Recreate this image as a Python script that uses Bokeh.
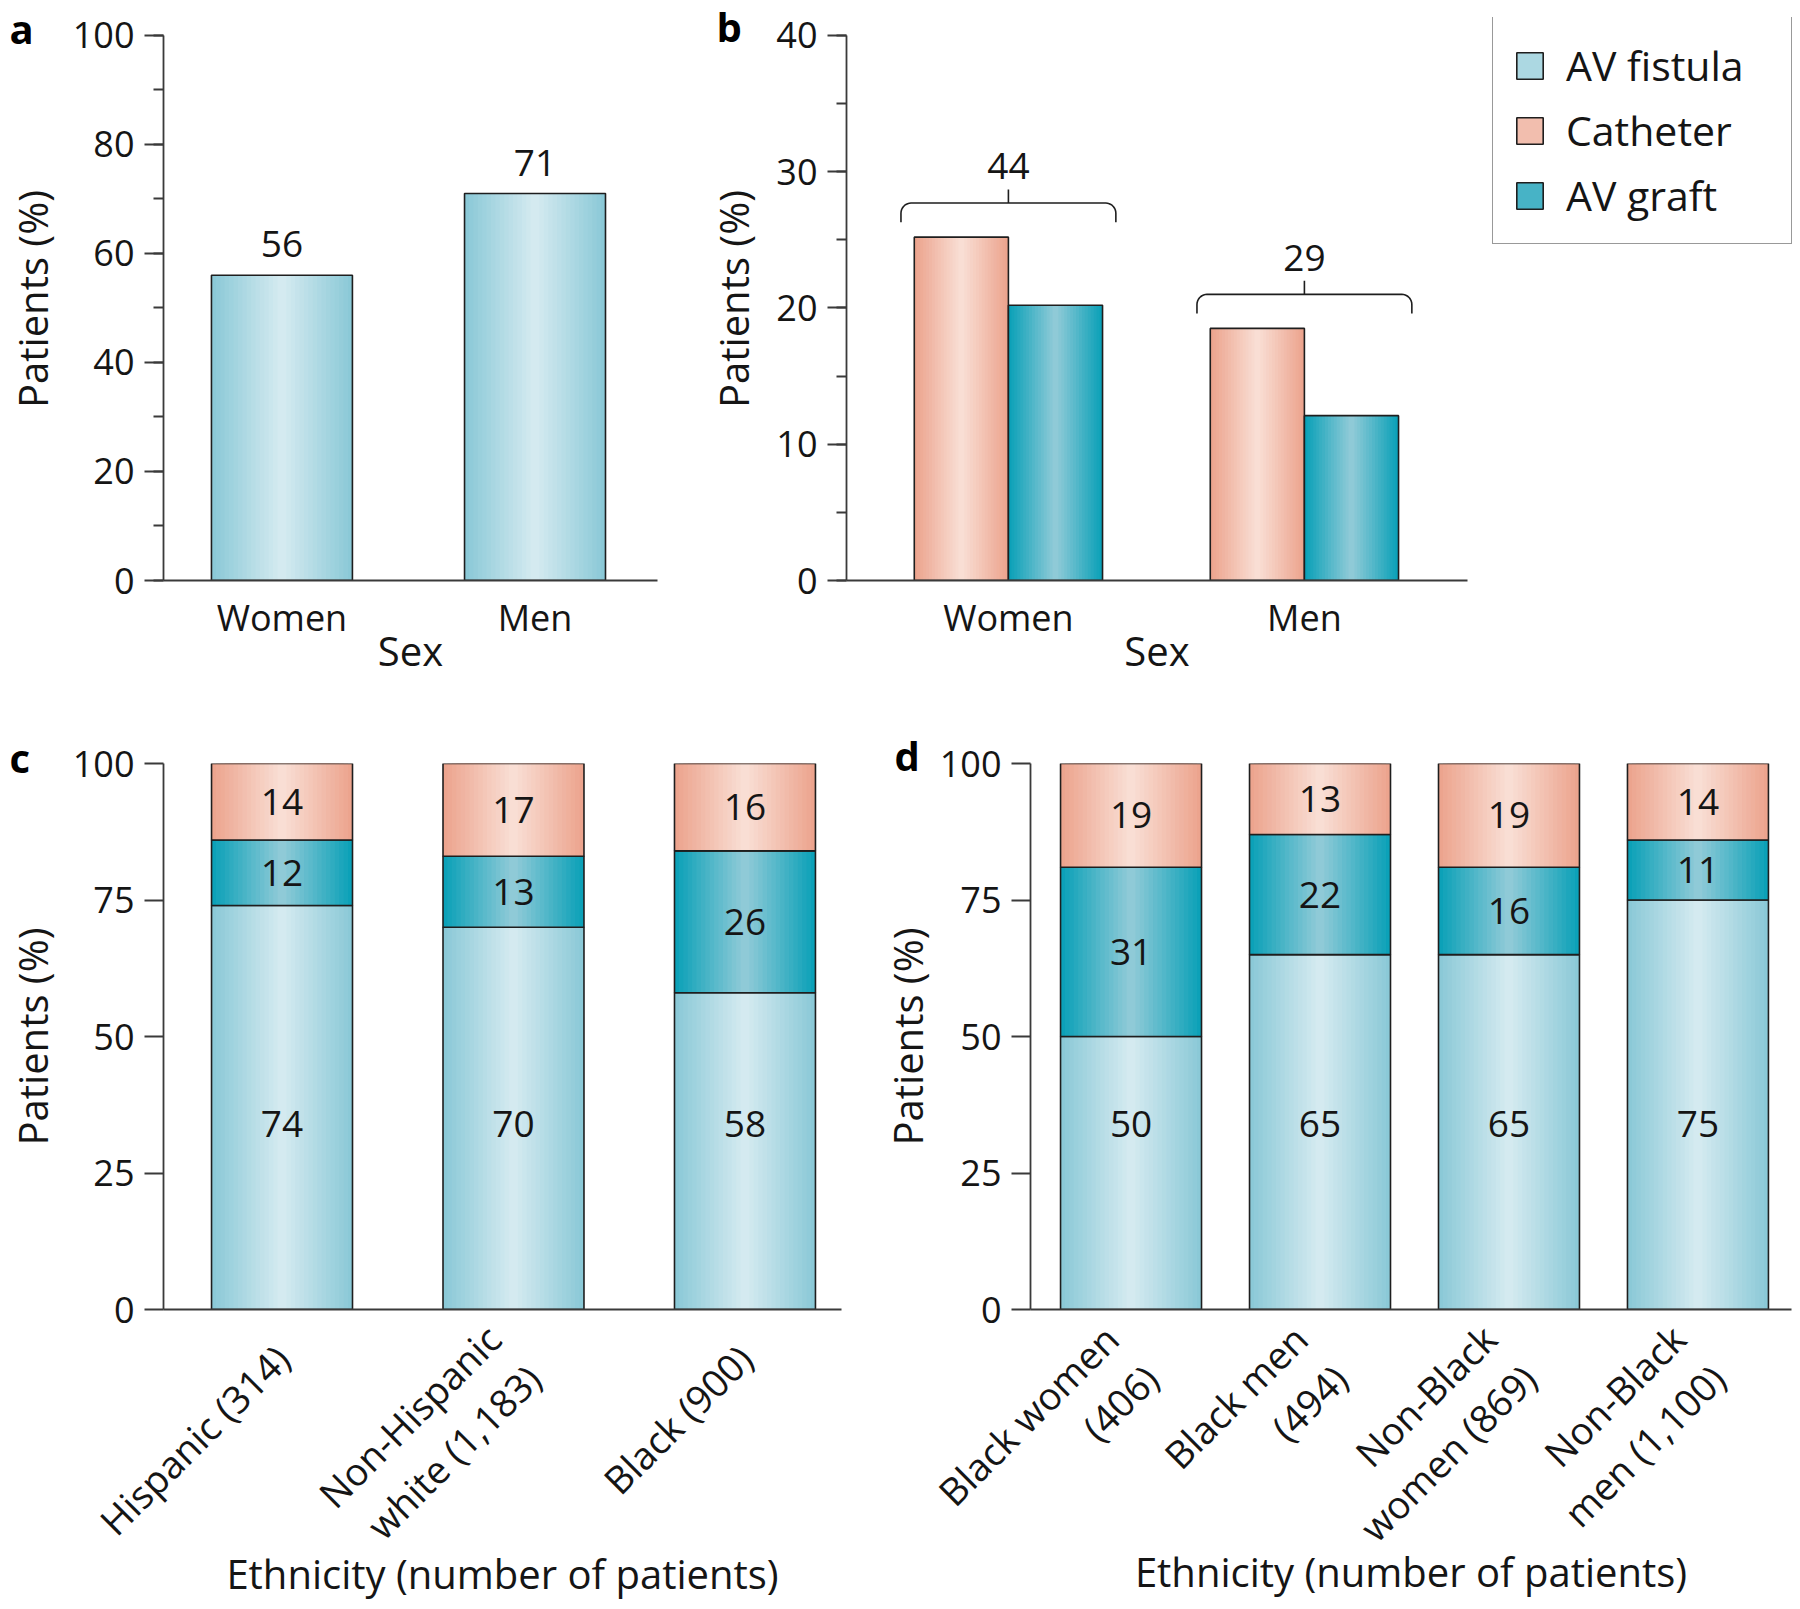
import numpy as np
from bokeh.plotting import figure
from bokeh.models import Range1d, FixedTicker, SingleIntervalTicker, Legend, LegendItem
from bokeh.layouts import column, row
from bokeh.embed import file_html
from bokeh.resources import INLINE
from bokeh.core.properties import value

# ---------------- data ----------------
sex_categories = ["Women", "Men"]
fistula_by_sex = [56, 71]
catheter_by_sex = [25.2, 18.5]
graft_by_sex = [20.2, 12.1]
nonfistula_by_sex = [44, 29]

ethnicity_categories = ["Hispanic (314)", "Non-Hispanic\nwhite (1,183)", "Black (900)"]
ethnicity_fistula = [74, 70, 58]
ethnicity_graft = [12, 13, 26]
ethnicity_catheter = [14, 17, 16]

group_categories = ["Black women\n(406)", "Black men\n(494)", "Non-Black\nwomen (869)", "Non-Black\nmen (1,100)"]
group_fistula = [50, 65, 65, 75]
group_graft = [31, 22, 16, 11]
group_catheter = [19, 13, 19, 14]

series_names = ["AV fistula", "Catheter", "AV graft"]

# ---------------- style ----------------
FONT = "Open Sans"
TXT = "#151515"
AXIS = "#3a3a3a"
OUTLINE = "#1e1e1e"
FIST = ("#8bc9d7", "#d4eaf0")
CATH = ("#eca48e", "#f9ded4")
GRAFT = ("#0ca1b8", "#8fcad7")
NSTRIP = 16


def hex2rgb(h):
    return np.array([int(h[i:i + 2], 16) for i in (1, 3, 5)], float)


def mix(a, b, t):
    c = hex2rgb(a) * (1 - t) + hex2rgb(b) * t
    return "#%02x%02x%02x" % tuple(int(round(v)) for v in c)


def gradient_bars(p, x, bottom, top, width, colors):
    edge, center = colors
    for k in range(NSTRIP):
        frac = 1 - k / NSTRIP
        t = k / (NSTRIP - 1)
        p.vbar(x=x, bottom=bottom, top=top, width=width * frac,
               fill_color=mix(edge, center, t), line_color=None)
    p.vbar(x=x, bottom=bottom, top=top, width=width, fill_color=None,
           line_color=OUTLINE, line_width=1.6)


def make_fig(width, height, xr, yr, borders):
    l, r, t, b = borders
    p = figure(width=width, height=height, x_range=Range1d(*xr), y_range=Range1d(*yr),
               output_backend="svg", toolbar_location=None,
               min_border_left=l, min_border_right=r, min_border_top=t, min_border_bottom=b)
    p.grid.visible = False
    p.outline_line_color = None
    p.background_fill_color = "white"
    p.border_fill_color = "white"
    return p


def style_axes(p, interval, nminor, ymax, labels, ylab_standoff, xlabel, rotated, xlab_standoff):
    ya = p.yaxis[0]
    ya.bounds = (0, ymax)
    ya.ticker = SingleIntervalTicker(interval=interval, num_minor_ticks=nminor)
    ya.major_tick_out = 19
    ya.major_tick_in = 0
    ya.minor_tick_out = 10 if nminor else 0
    ya.minor_tick_in = 0
    ya.axis_line_color = AXIS
    ya.axis_line_width = 1.8
    ya.major_tick_line_color = AXIS
    ya.major_tick_line_width = 1.8
    ya.minor_tick_line_color = AXIS
    ya.minor_tick_line_width = 1.8
    ya.major_label_text_font = FONT
    ya.major_label_text_font_size = "36px"
    ya.major_label_text_color = TXT
    ya.major_label_standoff = 10
    ya.axis_label = "Patients (%)"
    ya.axis_label_text_font = FONT
    ya.axis_label_text_font_size = "40px"
    ya.axis_label_text_font_style = "normal"
    ya.axis_label_text_color = TXT
    ya.axis_label_standoff = ylab_standoff

    xa = p.xaxis[0]
    xa.ticker = FixedTicker(ticks=list(range(len(labels))))
    xa.major_label_overrides = {i: lab for i, lab in enumerate(labels)}
    xa.major_tick_out = 0
    xa.major_tick_in = 0
    xa.minor_tick_out = 0
    xa.minor_tick_in = 0
    xa.axis_line_color = AXIS
    xa.axis_line_width = 1.8
    xa.major_label_text_font = FONT
    xa.major_label_text_color = TXT
    if rotated:
        xa.major_label_orientation = np.pi / 4
        xa.major_label_text_font_size = "38px"
        xa.major_label_text_line_height = 1.08
        xa.major_label_standoff = 42
    else:
        xa.major_label_text_font_size = "36px"
        xa.major_label_standoff = 12
    xa.axis_label = xlabel
    xa.axis_label_text_font = FONT
    xa.axis_label_text_font_size = "40px"
    xa.axis_label_text_font_style = "normal"
    xa.axis_label_text_color = TXT
    xa.axis_label_standoff = xlab_standoff


def panel_letter(p, letter, offset, standoff, lead_line=False):
    t = p.title
    t.text = ("\u00a0\n" + letter) if lead_line else letter
    t.text_font = FONT
    t.text_font_size = "40px"
    t.text_font_style = "bold"
    t.text_color = "#000000"
    t.text_line_height = 0.6
    t.align = "left"
    t.vertical_align = "bottom"
    t.offset = offset
    t.standoff = standoff


def num_text(p, xs, ys, texts, size="37px", y_offset=0):
    p.text(x=xs, y=ys, text=texts, text_align="center", text_baseline="middle",
           text_font=value(FONT), text_font_size=size, text_color=TXT, y_offset=y_offset)


ROW1_TOP = 16  # frame top of the first row (room for the legend)

# ---------------- panel a ----------------
a_ymax = 100
pa = make_fig(680, 700, (-0.468, 1.484), (0, a_ymax * (580 - ROW1_TOP) / 546), (163, 23, ROW1_TOP, 120))
xa_pos = np.arange(len(sex_categories))
gradient_bars(pa, xa_pos, [0] * len(xa_pos), fistula_by_sex, 0.557, FIST)
num_text(pa, xa_pos, fistula_by_sex, [str(v) for v in fistula_by_sex], y_offset=-31)
style_axes(pa, 20, 2, a_ymax, sex_categories, 10, "Sex", False, -22)
panel_letter(pa, "a", -154, -76, lead_line=True)

# ---------------- panel b ----------------
b_ymax = 40
pb = make_fig(800, 700, (-0.547, 1.551), (0, b_ymax * (580 - ROW1_TOP) / 546), (166, 13, ROW1_TOP, 120))
bw = 0.318
xb_pos = np.arange(len(sex_categories))
gradient_bars(pb, xb_pos - bw / 2, [0] * len(xb_pos), catheter_by_sex, bw, CATH)
gradient_bars(pb, xb_pos + bw / 2, [0] * len(xb_pos), graft_by_sex, bw, GRAFT)
# brackets for the combined non-fistula share
for i, total in enumerate(nonfistula_by_sex):
    top = max(catheter_by_sex[i], graft_by_sex[i]) + 2.5
    xl = xb_pos[i] - bw - 0.045
    xr = xb_pos[i] + bw + 0.045
    rx, ry = 0.034, 0.75
    th = np.linspace(0, np.pi / 2, 10)
    left_corner_x = xl + rx - rx * np.cos(th)
    left_corner_y = top - ry + ry * np.sin(th)
    right_corner_x = (xr - rx + rx * np.sin(th))
    right_corner_y = top - ry + ry * np.cos(th)
    bx = np.concatenate([[xl], left_corner_x, right_corner_x, [xr]])
    by = np.concatenate([[top - 1.4], left_corner_y, right_corner_y, [top - 1.4]])
    pb.line(bx, by, line_color=OUTLINE, line_width=1.6)
    pb.line([xb_pos[i], xb_pos[i]], [top, top + 1.0], line_color=OUTLINE, line_width=1.6)
    num_text(pb, [xb_pos[i]], [top + 2.7], [str(total)])
style_axes(pb, 10, 2, b_ymax, sex_categories, 12, "Sex", False, -22)
panel_letter(pb, "b", -130, -73, lead_line=True)

# ---------------- legend (own figure, no axes) ----------------
pl = figure(width=320, height=700, x_range=Range1d(0, 1), y_range=Range1d(0, 1),
            output_backend="svg", toolbar_location=None, x_axis_type=None, y_axis_type=None,
            min_border_left=0, min_border_right=0, min_border_top=ROW1_TOP, min_border_bottom=120)
pl.grid.visible = False
pl.outline_line_color = None
legend_items = []
for name, cols in zip(series_names, [FIST, CATH, GRAFT]):
    r = pl.vbar(x=[0.5], top=[np.nan], width=0.1, fill_color=mix(cols[0], cols[1], 0.45),
                line_color=OUTLINE, line_width=1.6)
    legend_items.append(LegendItem(label=name, renderers=[r]))
legend = Legend(items=legend_items, location=(12, 336), margin=0, padding=20, spacing=9,
                glyph_width=33, glyph_height=33, label_standoff=20, label_width=205,
                label_text_font=FONT, label_text_font_size="41px", label_text_color=TXT,
                border_line_color="#333333", border_line_width=1.5,
                background_fill_color="white", background_fill_alpha=1.0)
pl.add_layout(legend)

# ---------------- panel c ----------------
FISTULA_LABEL_Y = 34
pc = make_fig(862, 905, (-0.512, 2.417), (0, 100), (163, 21, 63, 296))
xc_pos = np.arange(len(ethnicity_categories))
c_f = np.array(ethnicity_fistula, float)
c_g = np.array(ethnicity_graft, float)
c_c = np.array(ethnicity_catheter, float)
gradient_bars(pc, xc_pos, np.zeros(len(xc_pos)), c_f, 0.609, FIST)
gradient_bars(pc, xc_pos, c_f, c_f + c_g, 0.609, GRAFT)
gradient_bars(pc, xc_pos, c_f + c_g, c_f + c_g + c_c, 0.609, CATH)
num_text(pc, xc_pos, [FISTULA_LABEL_Y] * len(xc_pos), [str(v) for v in ethnicity_fistula])
num_text(pc, xc_pos, c_f + c_g / 2, [str(v) for v in ethnicity_graft])
num_text(pc, xc_pos, c_f + c_g + c_c / 2, [str(v) for v in ethnicity_catheter])
style_axes(pc, 25, 0, 100, ethnicity_categories, 10, "Ethnicity (number of patients)", True, -53)
panel_letter(pc, "c", -154, -43)

# ---------------- panel d ----------------
pd_ = make_fig(938, 905, (-0.532, 3.495), (0, 100), (168, 9, 63, 296))
xd_pos = np.arange(len(group_categories))
d_f = np.array(group_fistula, float)
d_g = np.array(group_graft, float)
d_c = np.array(group_catheter, float)
gradient_bars(pd_, xd_pos, np.zeros(len(xd_pos)), d_f, 0.746, FIST)
gradient_bars(pd_, xd_pos, d_f, d_f + d_g, 0.746, GRAFT)
gradient_bars(pd_, xd_pos, d_f + d_g, d_f + d_g + d_c, 0.746, CATH)
num_text(pd_, xd_pos, [FISTULA_LABEL_Y] * len(xd_pos), [str(v) for v in group_fistula])
num_text(pd_, xd_pos, d_f + d_g / 2, [str(v) for v in group_graft])
num_text(pd_, xd_pos, d_f + d_g + d_c / 2, [str(v) for v in group_catheter])
style_axes(pd_, 25, 0, 100, group_categories, 2, "Ethnicity (number of patients)", True, -53)
panel_letter(pd_, "d", -136, -39)

layout = column(row(pa, pb, pl), row(pc, pd_))
open("out.html", "w").write(file_html(layout, INLINE))
